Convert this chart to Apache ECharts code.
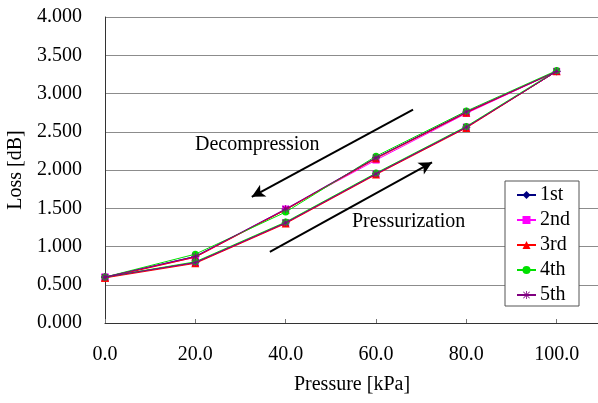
<!DOCTYPE html>
<html>
<head>
<meta charset="utf-8">
<script src="https://cdn.jsdelivr.net/npm/echarts@6/dist/echarts.min.js"></script>
<style>
  html, body { margin: 0; padding: 0; background: #fff; }
  #chart { width: 598px; height: 403px; }
</style>
</head>
<body>
<div id="chart"></div>
<script>
// pressure goes up 0 -> 100 then back down to 0
var pressure = [0, 20, 40, 60, 80, 100, 80, 60, 40, 20, 0];
var seriesNames = ['1st', '2nd', '3rd', '4th', '5th'];
var loss1st = [0.60, 0.79, 1.31, 1.95, 2.56, 3.29, 2.75, 2.16, 1.48, 0.87, 0.60];
var loss2nd = [0.60, 0.79, 1.31, 1.95, 2.56, 3.29, 2.74, 2.13, 1.49, 0.86, 0.60];
var loss3rd = [0.59, 0.78, 1.30, 1.94, 2.55, 3.29, 2.75, 2.15, 1.48, 0.86, 0.59];
var loss4th = [0.60, 0.80, 1.32, 1.96, 2.57, 3.30, 2.77, 2.18, 1.45, 0.90, 0.60];
var loss5th = [0.60, 0.79, 1.31, 1.95, 2.56, 3.29, 2.76, 2.16, 1.49, 0.87, 0.60];
// arrows [start, end] in data units
var decompArrow = [[68.2, 2.79], [32.5, 1.65]];
var pressArrow = [[36.5, 0.93], [72.4, 2.10]];

var font = "'Liberation Serif', 'Times New Roman', serif";
var colors = ['#000080', '#ff00ff', '#ff0000', '#00e000', '#800080'];
var symbols = ['diamond', 'rect', 'triangle', 'circle',
  'path://M0,4.5h10v1h-10z M4.5,0h1v10h-1z M0.7,1.4L1.4,0.7L9.3,8.6L8.6,9.3z M8.6,0.7L9.3,1.4L1.4,9.3L0.7,8.6z'];
var sizes = [8, 7, 8, 7, 8];
var allLoss = [loss1st, loss2nd, loss3rd, loss4th, loss5th];

function pairs(ys) {
  return pressure.map(function (x, i) { return [x, ys[i]]; });
}

var series = allLoss.map(function (ys, i) {
  var s = {
    name: seriesNames[i],
    type: 'line',
    data: pairs(ys),
    symbol: symbols[i],
    symbolSize: sizes[i],
    showAllSymbol: true,
    color: colors[i],
    lineStyle: { width: 1, color: colors[i] },
    itemStyle: { color: colors[i] },
    emphasis: { disabled: true },
    animation: false,
    z: 3 + i
  };
  if (i === 0) {
    s.markLine = {
      silent: true,
      animation: false,
      symbol: ['none', 'arrow'],
      symbolSize: [10, 13],
      label: { show: false },
      lineStyle: { color: '#000', width: 2, type: 'solid' },
      data: [
        [{ coord: decompArrow[0] }, { coord: decompArrow[1] }],
        [{ coord: pressArrow[0] }, { coord: pressArrow[1] }]
      ]
    };
  }
  return s;
});

var chart = echarts.init(document.getElementById('chart'));
chart.setOption({
  backgroundColor: '#fff',
  animation: false,
  textStyle: { fontFamily: font },
  grid: { left: 105, top: 17, bottom: 80, right: -49, containLabel: false, outerBoundsMode: 'none' },
  xAxis: {
    type: 'value',
    min: 0,
    max: 120,
    interval: 20,
    axisLine: { lineStyle: { color: '#333', width: 1 } },
    axisTick: { inside: true, length: 4, lineStyle: { color: '#777' } },
    axisLabel: {
      margin: 22, fontSize: 20, color: '#000', fontFamily: font,
      formatter: function (v) { return v.toFixed(1); }
    },
    splitLine: { show: false }
  },
  yAxis: {
    type: 'value',
    min: 0,
    max: 4,
    interval: 0.5,
    name: 'Loss [dB]',
    nameLocation: 'middle',
    nameGap: 78,
    nameTextStyle: { fontSize: 20, color: '#000', fontFamily: font },
    axisLine: { show: true, lineStyle: { color: '#333', width: 1 } },
    axisTick: { show: false },
    axisLabel: {
      margin: 23, fontSize: 20, color: '#000', fontFamily: font,
      formatter: function (v) { return v.toFixed(3); }
    },
    splitLine: { lineStyle: { color: '#8c8c8c', width: 1 } }
  },
  legend: {
    orient: 'vertical',
    left: 505,
    top: 181,
    padding: [4, 9, 1, 11],
    itemWidth: 19,
    itemHeight: 10,
    itemGap: 5,
    borderColor: '#555',
    borderWidth: 1,
    backgroundColor: '#fff',
    textStyle: { fontSize: 20, lineHeight: 18, color: '#000', fontFamily: font, padding: [0, 0, 0, -1] },
    data: seriesNames
  },
  graphic: [
    { type: 'text', left: 195, top: 135, style: { text: 'Decompression', font: '20px ' + font, fill: '#000' } },
    { type: 'text', left: 352, top: 212, style: { text: 'Pressurization', font: '20px ' + font, fill: '#000' } },
    { type: 'text', x: 352, y: 385, style: { text: 'Pressure [kPa]', font: '20px ' + font, fill: '#000', align: 'center', verticalAlign: 'middle' } }
  ],
  series: series
});
</script>
</body>
</html>
